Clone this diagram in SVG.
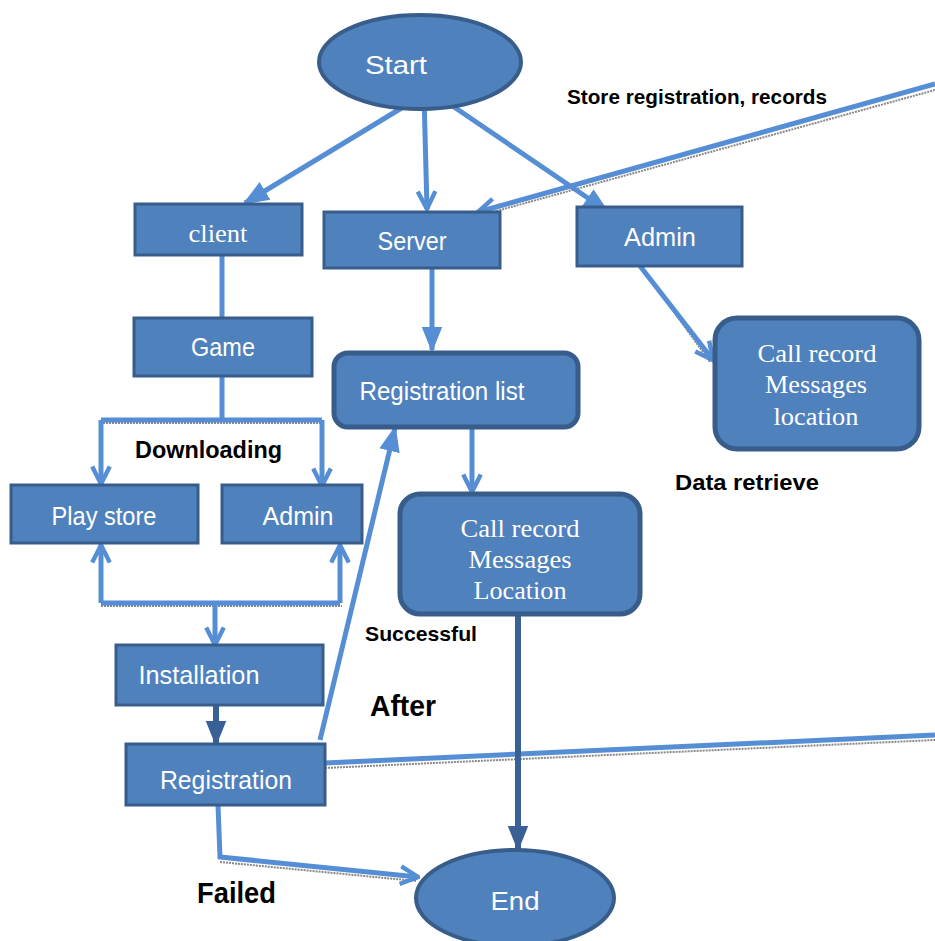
<svg xmlns="http://www.w3.org/2000/svg" width="935" height="941" viewBox="0 0 935 941">
<style>
.box{fill:#4f81bd;stroke:#385d8a;stroke-width:3}
.rbox{fill:#4f81bd;stroke:#385d8a;stroke-width:5}
.ell{fill:#4f81bd;stroke:#385d8a;stroke-width:4}
.t{font-family:"Liberation Sans","DejaVu Sans",sans-serif;fill:#fff;font-size:26px;text-anchor:middle}
.s{font-family:"Liberation Serif","DejaVu Serif",serif;fill:#fff;font-size:25px;text-anchor:middle}
.lb{font-family:"Liberation Sans","DejaVu Sans",sans-serif;fill:#000;font-weight:bold}
.c{fill:none;stroke:#558ed5;stroke-width:5}
.cd{fill:none;stroke:#3a6196;stroke-width:6}
.sh{fill:none;stroke:#888;stroke-width:2;stroke-dasharray:2 1}
</style>
<defs>
<marker id="chev" markerUnits="userSpaceOnUse" viewBox="0 0 20 20" refX="18" refY="10" markerWidth="22" markerHeight="22" orient="auto">
<path d="M2,2 L18,10 L2,18" fill="none" stroke="#558ed5" stroke-width="4"/>
</marker>
<marker id="tri" markerUnits="userSpaceOnUse" viewBox="0 0 20 20" refX="18" refY="10" markerWidth="26" markerHeight="26" orient="auto">
<path d="M0,2 L20,10 L0,18 Z" fill="#558ed5"/>
</marker>
<marker id="trid" markerUnits="userSpaceOnUse" viewBox="0 0 20 20" refX="18" refY="10" markerWidth="26" markerHeight="26" orient="auto">
<path d="M0,2 L20,10 L0,18 Z" fill="#3a6196"/>
</marker>
</defs>

<g id="connectors">
<path class="sh" d="M935,90 L482,215"/>
<path class="c" d="M935,84 L478,212" marker-end="url(#chev)"/>
<path class="c" d="M428,92 L245,203" marker-end="url(#tri)"/>
<path class="c" d="M424,95 L427,209" marker-end="url(#chev)"/>
<path class="c" d="M432,92 L607,211" marker-end="url(#tri)"/>
<path class="c" d="M222,255 L222,318"/>
<path class="sh" d="M103,423 L324,423"/>
<path class="c" d="M222,376 L222,420 M101,420 L322,420"/>
<path class="c" d="M101,420 L101,484" marker-end="url(#chev)"/>
<path class="c" d="M322,420 L322,486" marker-end="url(#chev)"/>
<path class="c" d="M432,268 L432,350" marker-end="url(#tri)"/>
<path class="sh" d="M644,270 L710,362"/>
<path class="c" d="M640,266 L713,360" marker-end="url(#chev)"/>
<path class="c" d="M472,427 L472,492" marker-end="url(#chev)"/>
<path class="sh" d="M101,606 L342,606"/>
<path class="c" d="M101,603 L340,603"/>
<path class="c" d="M101,603 L101,545" marker-end="url(#chev)"/>
<path class="c" d="M340,603 L340,545" marker-end="url(#chev)"/>
<path class="c" d="M215,603 L215,645" marker-end="url(#chev)"/>
<path class="cd" d="M216,705 L216,744" marker-end="url(#trid)"/>
<path class="c" d="M320,740 L395,428" marker-end="url(#tri)"/>
<path class="sh" d="M325,768 L935,740"/>
<path class="c" d="M325,763 L935,735"/>
<path class="cd" d="M518,614 L518,849" marker-end="url(#trid)"/>
<path class="sh" d="M220,862 L416,881"/>
<path class="c" d="M218,805 L220,857 L418,877" marker-end="url(#chev)"/>
</g>

<g id="start"><ellipse class="ell" cx="420" cy="62" rx="101" ry="47"/><text class="t" x="396" y="74" font-size="31" textLength="62" lengthAdjust="spacingAndGlyphs">Start</text></g>
<g id="client"><rect class="box" x="135" y="204" width="167" height="51"/><text class="s" x="218" y="242" textLength="59" lengthAdjust="spacingAndGlyphs">client</text></g>
<g id="server"><rect class="box" x="324" y="212" width="176" height="56"/><text class="t" x="412" y="250" textLength="69" lengthAdjust="spacingAndGlyphs">Server</text></g>
<g id="admin-top"><rect class="box" x="577" y="207" width="165" height="59"/><text class="t" x="660" y="246" textLength="72" lengthAdjust="spacingAndGlyphs">Admin</text></g>
<g id="game"><rect class="box" x="134" y="318" width="178" height="58"/><text class="t" x="223" y="356" textLength="64" lengthAdjust="spacingAndGlyphs">Game</text></g>
<g id="registration-list"><rect class="rbox" x="334" y="353" width="244" height="74" rx="14"/><text class="t" x="442" y="400" textLength="165" lengthAdjust="spacingAndGlyphs">Registration list</text></g>
<g id="call-record-right"><rect class="rbox" x="715" y="318" width="204" height="131" rx="22"/>
<text class="s" x="817" y="362" textLength="119" lengthAdjust="spacingAndGlyphs">Call record</text>
<text class="s" x="816" y="393" textLength="102" lengthAdjust="spacingAndGlyphs">Messages</text>
<text class="s" x="816" y="425" textLength="85" lengthAdjust="spacingAndGlyphs">location</text></g>
<g id="call-record-mid"><rect class="rbox" x="400" y="494" width="240" height="120" rx="20"/>
<text class="s" x="520" y="537" textLength="119" lengthAdjust="spacingAndGlyphs">Call record</text>
<text class="s" x="520" y="568" textLength="103" lengthAdjust="spacingAndGlyphs">Messages</text>
<text class="s" x="520" y="599" textLength="93" lengthAdjust="spacingAndGlyphs">Location</text></g>
<g id="play-store"><rect class="box" x="11" y="485" width="187" height="58"/><text class="t" x="104" y="525" textLength="105" lengthAdjust="spacingAndGlyphs">Play store</text></g>
<g id="admin-low"><rect class="box" x="222" y="485" width="140" height="58"/><text class="t" x="298" y="525" textLength="71" lengthAdjust="spacingAndGlyphs">Admin</text></g>
<g id="installation"><rect class="box" x="116" y="645" width="207" height="60"/><text class="t" x="199" y="684" textLength="121" lengthAdjust="spacingAndGlyphs">Installation</text></g>
<g id="registration"><rect class="box" x="126" y="744" width="199" height="61"/><text class="t" x="226" y="789" textLength="132" lengthAdjust="spacingAndGlyphs">Registration</text></g>
<g id="end"><ellipse class="ell" cx="515" cy="898" rx="99" ry="48"/><text class="t" x="515" y="910" font-size="31" textLength="49" lengthAdjust="spacingAndGlyphs">End</text></g>

<g id="labels">
<text class="lb" x="567" y="104" font-size="20" textLength="260" lengthAdjust="spacingAndGlyphs">Store registration, records</text>
<text class="lb" x="135" y="458" font-size="23" textLength="147" lengthAdjust="spacingAndGlyphs">Downloading</text>
<text class="lb" x="675" y="490" font-size="22" textLength="144" lengthAdjust="spacingAndGlyphs">Data retrieve</text>
<text class="lb" x="365" y="641" font-size="21" textLength="112" lengthAdjust="spacingAndGlyphs">Successful</text>
<text class="lb" x="370" y="716" font-size="30" textLength="66" lengthAdjust="spacingAndGlyphs">After</text>
<text class="lb" x="197" y="903" font-size="30" textLength="79" lengthAdjust="spacingAndGlyphs">Failed</text>
</g>
</svg>
